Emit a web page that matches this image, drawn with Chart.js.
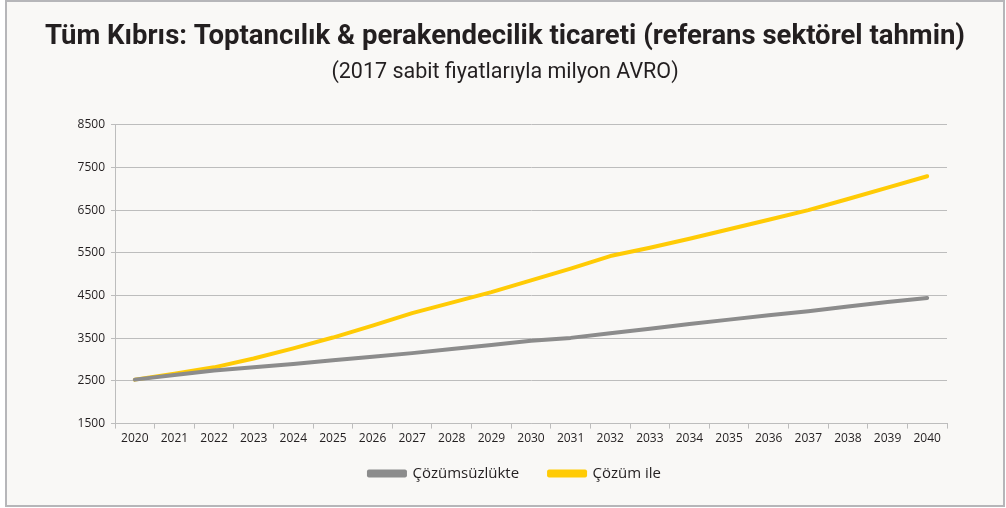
<!DOCTYPE html>
<html>
<head>
<meta charset="utf-8">
<script src="https://cdn.jsdelivr.net/npm/chart.js@4"></script>
<style>
  body { margin: 0; background: #ffffff; }
  #frame {
    position: absolute; left: 5px; top: 0px; width: 1000px; height: 507px;
    box-sizing: border-box; border: 2px solid #b6b6b9; background: #f9f8f6;
  }
  #chartCanvas { position: absolute; left: 0; top: 0; }
</style>
</head>
<body>
<div id="frame"><canvas id="chartCanvas" width="996" height="503"></canvas></div>
<script>
// --- data ---
const years = ['2020', '2021', '2022', '2023', '2024', '2025', '2026', '2027', '2028', '2029', '2030',
               '2031', '2032', '2033', '2034', '2035', '2036', '2037', '2038', '2039', '2040'];
const withoutSolution = [2530, 2640, 2745, 2820, 2897, 2984, 3064, 3151, 3246, 3341, 3440,
                         3508, 3619, 3722, 3833, 3936, 4039, 4134, 4245, 4348, 4445];
const withSolution = [2530, 2667, 2818, 3024, 3262, 3516, 3794, 4088, 4334, 4580, 4855,
                      5132, 5425, 5619, 5832, 6053, 6274, 6500, 6761, 7030, 7295];
const yTicks = [1500, 2500, 3500, 4500, 5500, 6500, 7500, 8500];

const titleText = 'Tüm Kıbrıs: Toptancılık & perakendecilik ticareti (referans sektörel tahmin)';
const subtitleText = '(2017 sabit fiyatlarıyla milyon AVRO)';

const gridColor = '#bdbdbd';
const textColor = '#231f20';

// legend: wider gap between items than the vertical space it takes
const legendFitPadding = 20;
const legendDrawPadding = 30;
const legendSpacing = {
    id: 'legendSpacing',
    afterInit(chart) {
        const legend = chart.legend;
        if (!legend) return;
        const origDraw = legend.draw.bind(legend);
        legend.draw = function () {
            const labels = this.options.labels;
            labels.padding = legendDrawPadding;
            if (labels.padding === legendDrawPadding) {
                this.top -= 13;
                origDraw();
                this.top += 13;
                labels.padding = legendFitPadding;
            } else {
                origDraw();
            }
        };
    }
};

// canvas sits at page x=7, y=2
const ctx = document.getElementById('chartCanvas').getContext('2d');
new Chart(ctx, {
    type: 'line',
    data: {
        labels: years,
        datasets: [
            {
                label: 'Çözümsüzlükte',
                data: withoutSolution,
                borderColor: '#8c8c8c',
                backgroundColor: '#8c8c8c',
                borderWidth: 4,
                pointRadius: 0,
                tension: 0,
                borderCapStyle: 'round',
                borderJoinStyle: 'round'
            },
            {
                label: 'Çözüm ile',
                data: withSolution,
                borderColor: '#ffcb05',
                backgroundColor: '#ffcb05',
                borderWidth: 4,
                pointRadius: 0,
                tension: 0,
                borderCapStyle: 'round',
                borderJoinStyle: 'round'
            }
        ]
    },
    options: {
        responsive: false,
        animation: false,
        layout: { padding: { left: 0, right: 0, top: 0, bottom: 11 } },
        scales: {
            x: {
                offset: true,
                grid: {
                    display: true,
                    drawOnChartArea: false,
                    drawTicks: true,
                    tickLength: 5,
                    color: gridColor,
                    offset: true
                },
                border: { color: gridColor, width: 1 },
                ticks: {
                    color: textColor,
                    font: { family: 'Open Sans', size: 12 },
                    maxRotation: 0,
                    autoSkip: false,
                    padding: 3
                }
            },
            y: {
                min: 1500,
                max: 8500,
                afterBuildTicks: function (scale) {
                    scale.ticks = yTicks.map(v => ({ value: v }));
                },
                afterFit: function (scale) {
                    scale.width = 108;
                },
                grid: {
                    color: gridColor,
                    lineWidth: 1,
                    drawTicks: true,
                    tickLength: 4
                },
                border: { color: gridColor, width: 1 },
                ticks: {
                    color: textColor,
                    font: { family: 'Open Sans', size: 12 },
                    padding: 6,
                    callback: v => String(v)
                }
            },
            // empty axis on the right only to keep the plot narrower
            yRight: {
                position: 'right',
                display: true,
                grid: { display: false, drawTicks: false },
                border: { display: false },
                ticks: { display: false },
                afterFit: function (scale) {
                    scale.width = 56;
                }
            }
        },
        plugins: {
            title: {
                display: true,
                text: titleText,
                color: textColor,
                font: { family: 'Roboto', size: 27.5, weight: 'bold' },
                padding: { top: 19, bottom: 6 }
            },
            subtitle: {
                display: true,
                text: subtitleText,
                color: textColor,
                font: { family: 'Roboto', size: 21.5 },
                padding: { top: 0, bottom: 39 }
            },
            legend: {
                position: 'bottom',
                labels: {
                    color: textColor,
                    font: { family: 'Open Sans', size: 15 },
                    boxWidth: 36,
                    boxHeight: 4,
                    padding: legendFitPadding
                }
            },
            tooltip: { enabled: false }
        }
    },
    plugins: [legendSpacing]
});
</script>
</body>
</html>
